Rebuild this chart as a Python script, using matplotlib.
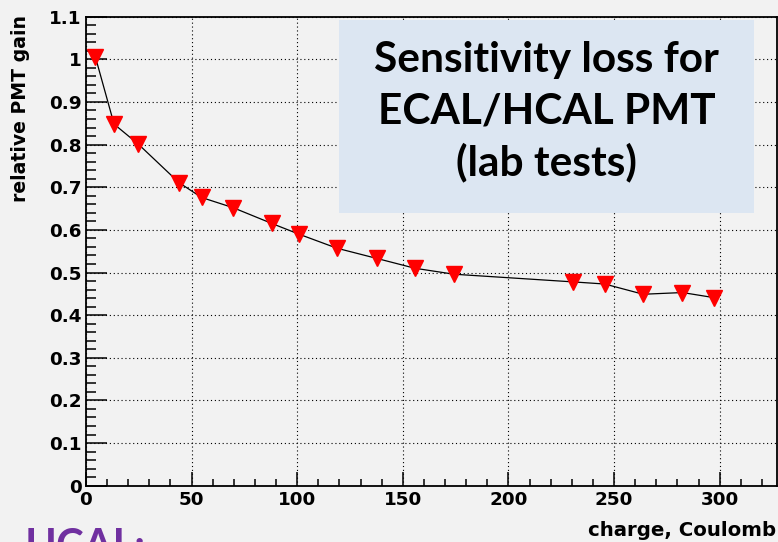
import numpy as np
import matplotlib.pyplot as plt
from matplotlib.patches import Rectangle
from matplotlib.ticker import MultipleLocator

# gain vs. integrated anode charge
charge = [4.5, 13.3, 24.8, 44.0, 54.7, 69.7, 88.0, 100.8, 118.8, 137.7,
          155.7, 174.2, 230.6, 245.6, 263.8, 282.4, 297.4]
gain = [1.005, 0.848, 0.801, 0.711, 0.676, 0.652, 0.615, 0.590, 0.557, 0.533,
        0.510, 0.496, 0.478, 0.473, 0.449, 0.453, 0.441]

y_ticks = [0, 0.1, 0.2, 0.3, 0.4, 0.5, 0.6, 0.7, 0.8, 0.9, 1.0, 1.1]
y_ticklabels = ['0', '0.1', '0.2', '0.3', '0.4', '0.5', '0.6', '0.7', '0.8',
                '0.9', '1', '1.1']
x_ticks = [0, 50, 100, 150, 200, 250, 300]

title_lines = ['Sensitivity loss for', 'ECAL/HCAL PMT', '(lab tests)']

BG = '#f2f2f2'
axis_font = 'DejaVu Sans'

fig = plt.figure(figsize=(7.78, 5.42), dpi=100, facecolor=BG)
ax = fig.add_axes([0.1105, 0.1039, 0.8878, 0.8653], facecolor=BG)

ax.plot(charge, gain, color='black', lw=0.9, zorder=3)
ax.plot(charge, gain, ls='none', marker='v', ms=11, color='red',
        mec='red', zorder=4)

ax.set_xlim(0, 327)
ax.set_ylim(0, 1.1)
ax.set_xticks(x_ticks)
ax.set_yticks(y_ticks)
ax.set_yticklabels(y_ticklabels)
ax.xaxis.set_minor_locator(MultipleLocator(10))
ax.yaxis.set_minor_locator(MultipleLocator(0.02))

ax.tick_params(axis='both', which='both', direction='in', width=1.1,
               color='black', top=False, right=False)
ax.tick_params(axis='y', which='major', length=15, pad=3)
ax.tick_params(axis='y', which='minor', length=7.5)
ax.tick_params(axis='x', which='major', length=10, pad=4)
ax.tick_params(axis='x', which='minor', length=5)
for lab in ax.get_xticklabels() + ax.get_yticklabels():
    lab.set_fontfamily(axis_font)
    lab.set_fontweight('bold')
    lab.set_fontsize(13.2)

ax.grid(True, which='major', color='black', ls=(0, (1, 2.5)), lw=0.8)
ax.set_axisbelow(True)
for sp in ax.spines.values():
    sp.set_linewidth(1.3)

fig.text(0.998, 0.022, 'charge, Coulomb', ha='right', va='center',
         family=axis_font, weight='bold', fontsize=14.2)
fig.text(0.026, 0.972, 'relative PMT gain', ha='center', va='top',
         rotation=90, family=axis_font, weight='bold', fontsize=13.6)

# title panel
fig.patches.append(Rectangle((0.4357, 0.607), 0.5333, 0.356,
                             transform=fig.transFigure, facecolor='#dce6f2',
                             edgecolor='none', zorder=5))
for txt, yb in zip(title_lines, [0.8677, 0.7725, 0.6771]):
    fig.text(0.7024, yb, txt, ha='center', va='baseline', family='Lato',
             weight='bold', fontsize=30.5, zorder=6)

fig.text(0.032, -0.031, 'HCAL:', ha='left', va='baseline', family='Lato',
         weight='bold', fontsize=30, color='#7030a0')

fig.savefig('out.png', dpi=100, facecolor=BG)
